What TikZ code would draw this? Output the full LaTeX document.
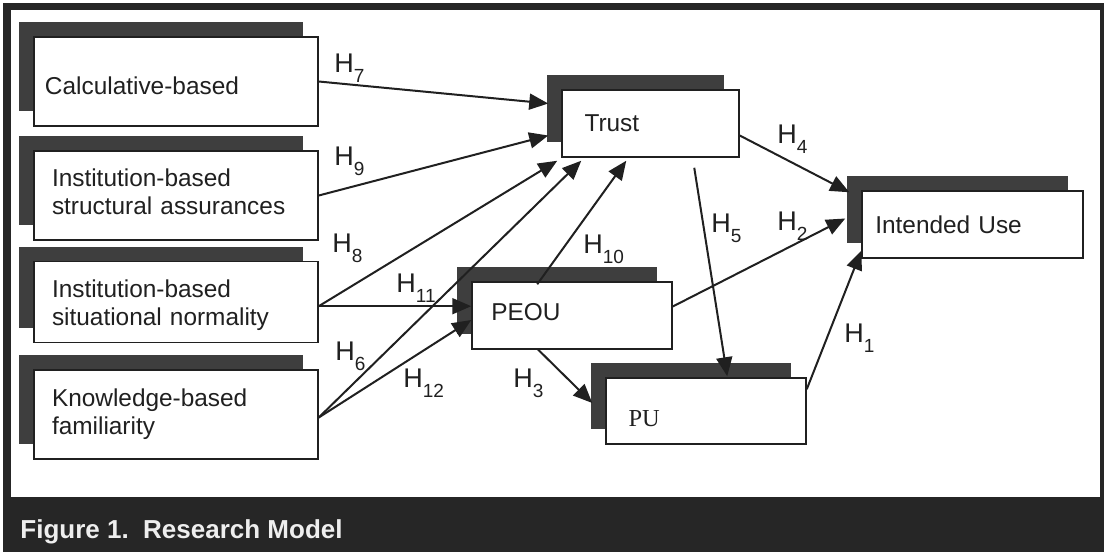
\documentclass[tikz,border=0pt]{standalone}
\usepackage{fontspec}
\setmainfont{Liberation Sans}
\newfontfamily\pufont{Liberation Serif}
\usetikzlibrary{arrows.meta,shadows,calc}
\definecolor{bandgray}{RGB}{38,38,38}
\definecolor{shadegray}{RGB}{62,62,62}
\definecolor{inkgray}{RGB}{32,32,32}
\definecolor{captionwhite}{RGB}{238,238,238}
\newcommand{\hyp}[1]{H\raisebox{-5pt}{\fontsize{9.5}{10}\selectfont #1}}

\begin{document}
\begin{tikzpicture}[x=0.5pt,y=-0.5pt]
\tikzset{factor/.style={rectangle,draw=inkgray,line width=0.75pt,fill=white,text=inkgray,align=left,inner ysep=0pt,font=\fontsize{12.2}{14}\selectfont,general shadow={fill=shadegray,shadow xshift=-7.5pt,shadow yshift=7.5pt}},
hyparrow/.style={draw=inkgray,line width=1pt,-{Triangle[length=9.5pt,width=8pt]}},
hlab/.style={anchor=base west,inner sep=0pt,text=inkgray,font=\fontsize{13.5}{14}\selectfont}}
\useasboundingbox (0,0) rectangle (1104,552);
\fill[white] (0,0) rectangle (1104,552);
\fill[bandgray] (3,3) rectangle (1104,552);
\fill[white] (11,10) rectangle (1100,497);
\node[anchor=base west,inner sep=0pt,text=captionwhite,font=\fontsize{13}{14}\selectfont\bfseries] (caption) at (20,538) {Figure 1.\ \ Research Model};

\node[factor,minimum width=142pt,minimum height=44.5pt,text width=131pt,inner xsep=5.5pt] (calc) at (176,81.5) {\rule{0pt}{13.1pt}Calculative-based};
\node[factor,minimum width=142pt,minimum height=44.5pt,text width=124pt,inner xsep=9pt] (struct) at (176,195.5) {Institution-based\\structural assurances\rule[-4pt]{0pt}{4pt}};
\node[factor,minimum width=142pt,minimum height=40.5pt,text width=124pt,inner xsep=9pt] (sit) at (176,302.2) {\rule{0pt}{11.6pt}Institution-based\\situational normality};
\node[factor,minimum width=142pt,minimum height=44.5pt,text width=124pt,inner xsep=9pt] (know) at (176,414.5) {Knowledge-based\\familiarity};
\node[factor,minimum width=88.5pt,minimum height=33.5pt,text width=66pt,inner xsep=11.25pt] (trust) at (650.5,123.5) {Trust};
\node[factor,minimum width=100pt,minimum height=33.5pt,text width=80.7pt,inner xsep=9.65pt] (peou) at (572,315.5) {PEOU\rule[-3.5pt]{0pt}{3.5pt}};
\node[factor,minimum width=100pt,minimum height=33pt,text width=77.5pt,inner xsep=11.25pt] (pu) at (706,411) {\pufont\rule{0pt}{15.4pt}PU};
\node[factor,minimum width=110.5pt,minimum height=33.5pt,text width=97.2pt,inner xsep=6.65pt] (iu) at (972.5,224.5) {Intended Use};

\coordinate (sitout) at ($(sit.east)+(0,4)$);
\coordinate (knowout) at ($(know.east)+(0,3)$);
\draw[hyparrow] (calc.east) -- ($(trust.west)+(-13,-20)$);
\draw[hyparrow] (struct.east) -- ($(trust.west)+(-13,12)$);
\draw[hyparrow] (sitout) -- ($(trust.south west)+(-4,3)$);
\draw[hyparrow] (sitout) -- (sitout -| peou.west);
\draw[hyparrow] (knowout) -- ($(trust.south west)+(20,3)$);
\draw[hyparrow] (knowout) -- ($(peou.west)+(0,4.5)$);
\draw[hyparrow] ($(peou.north west)+(66,3)$) -- ($(trust.south west)+(65,3)$);
\draw[hyparrow] ($(trust.south west)+(133,10)$) -- ($(pu.north west)+(122,-1)$);
\draw[hyparrow] ($(trust.east)+(0,12)$) -- ($(iu.north west)+(-12,2)$);
\draw[hyparrow] ($(peou.east)+(0,-9)$) -- ($(iu.west)+(-16,-6)$);
\draw[hyparrow] ($(peou.south west)+(66,-1)$) -- ($(pu.west)+(-13,-8)$);
\draw[hyparrow] ($(pu.north east)+(0,12)$) -- ($(iu.south west)+(0,-8)$);

\foreach \n/\x/\y in {7/334/72,9/334/165,8/332/252,11/396/292,6/335/360,12/403/387,3/513/387,10/583/253,5/711/232,2/777/230,4/777/143,1/844/342}
  \node[hlab] (h\n) at (\x,\y) {\hyp{\n}};
\end{tikzpicture}
\end{document}
